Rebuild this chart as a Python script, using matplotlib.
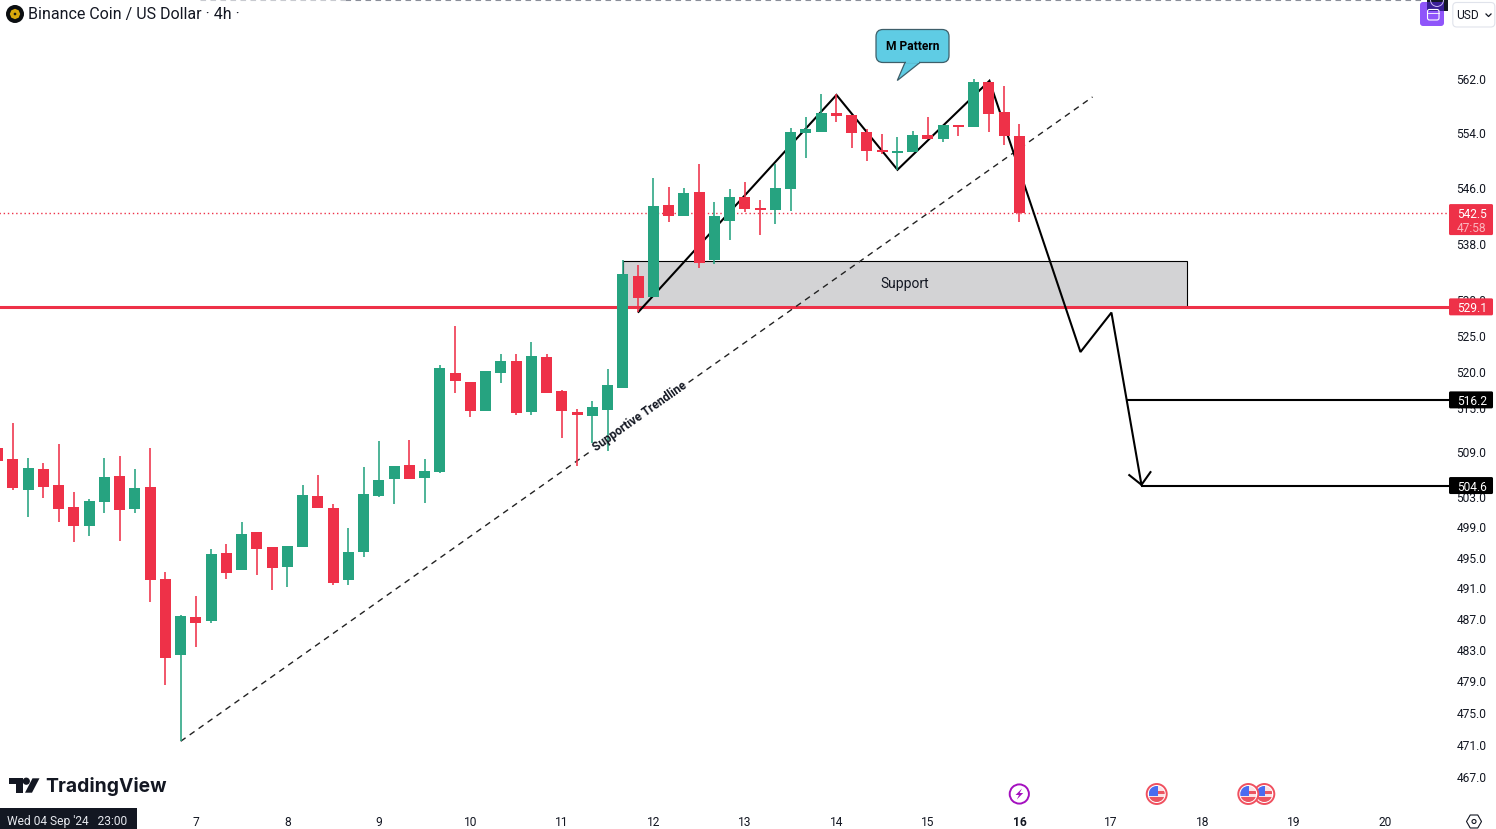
import numpy as np
import matplotlib
matplotlib.use('Agg')
import matplotlib.pyplot as plt
from matplotlib.patches import Rectangle, FancyBboxPatch, Polygon, Circle, RegularPolygon
from matplotlib.ticker import NullLocator
from matplotlib.transforms import ScaledTranslation

plt.rcParams['font.family'] = ['Roboto', 'DejaVu Sans']

GREEN = '#26A380'
RED = '#EE3148'
INK = '#131722'

# 4h candles, first one sticks out past the left edge
opens = [509.7, 508.2, 504.0, 506.8, 504.7, 501.7, 499.2, 502.4, 505.9, 501.5, 504.4, 492.3, 482.4, 487.3, 486.8, 495.7, 493.4,
         498.4, 496.4, 493.8, 496.4, 503.2, 501.6, 492.1, 495.8, 503.2, 505.5, 507.4, 505.6, 506.4, 519.9, 518.7, 514.7, 519.9,
         521.6, 514.6, 522.1, 517.4, 514.6, 514.0, 514.8, 517.8, 533.5, 530.5, 543.6, 542.0, 545.5, 535.7, 541.3, 544.8, 543.2,
         542.9, 545.9, 554.1, 554.2, 557.0, 556.7, 554.2, 551.6, 551.2, 551.3, 553.8, 553.2, 555.3, 555.0, 561.6, 557.2, 553.7]
highs = [509.7, 513.1, 508.3, 507.6, 510.2, 503.7, 502.8, 508.3, 508.6, 506.8, 509.7, 493.2, 487.6, 490.0, 496.2, 496.8, 499.8,
         498.4, 496.4, 496.6, 504.7, 506.0, 502.1, 499.0, 507.1, 510.6, 507.2, 510.8, 508.1, 521.0, 526.4, 518.7, 520.2, 522.5,
         522.5, 524.2, 522.5, 517.6, 515.0, 516.1, 520.5, 535.7, 535.0, 547.5, 546.2, 546.1, 549.6, 544.0, 545.9, 546.9, 544.3,
         549.6, 554.8, 556.5, 559.8, 559.8, 556.7, 554.7, 554.0, 553.5, 554.4, 556.5, 555.3, 555.3, 562.1, 561.6, 561.0, 555.4]
lows = [507.9, 504.0, 500.4, 502.9, 499.8, 497.1, 497.9, 501.0, 497.2, 501.0, 489.3, 478.6, 471.5, 483.5, 486.5, 492.3, 493.4,
        492.8, 490.8, 491.2, 496.4, 501.6, 491.5, 491.5, 495.1, 503.1, 502.1, 505.5, 502.3, 506.3, 517.2, 513.9, 514.7, 518.5,
        514.2, 514.2, 517.2, 511.0, 507.2, 510.3, 509.3, 517.8, 528.4, 530.5, 541.2, 542.0, 534.6, 535.2, 538.6, 542.6, 539.3,
        540.9, 542.7, 550.4, 554.2, 555.7, 551.9, 550.0, 551.0, 548.7, 551.3, 553.2, 552.8, 553.7, 555.0, 554.2, 552.3, 541.2]
closes = [507.9, 504.3, 507.0, 504.4, 501.5, 499.2, 502.5, 505.8, 501.3, 504.3, 492.1, 482.0, 487.4, 486.5, 495.5, 493.0, 498.2,
          496.2, 493.7, 496.6, 503.3, 501.6, 491.7, 495.8, 503.5, 505.4, 507.2, 505.5, 506.6, 520.6, 518.8, 514.7, 520.2, 521.6,
          514.4, 522.3, 517.2, 514.7, 514.2, 515.2, 518.3, 533.7, 530.3, 543.5, 542.0, 545.3, 535.3, 542.0, 544.8, 543.0, 542.9,
          546.1, 554.2, 554.7, 557.0, 556.6, 554.1, 551.4, 551.3, 551.4, 553.8, 553.2, 555.3, 555.0, 561.6, 556.9, 553.7, 542.5]
bar_index = np.arange(-1, 67)

price_ticks = [562, 554, 546, 538, 530, 525, 520, 515, 509, 503, 499, 495, 491, 487, 483, 479, 475, 471, 467]
day_ticks = [12, 18, 24, 30, 36, 42, 48, 54, 60, 66, 72, 78, 84, 90]
day_labels = ['7', '8', '9', '10', '11', '12', '13', '14', '15', '16', '17', '18', '19', '20']

# drawings on the chart (bar number, price)
trend1_x = [11, 37.87]
trend1_y = [471.5, 509.2]
trend2_x = [44.3, 70.79]
trend2_y = [518.6, 559.4]
zigzag_x = [41.02, 54.0, 58.0, 64.03, 70.0, 72.03, 74.0]
zigzag_y = [528.4, 559.7, 548.7, 561.8, 522.8, 528.3, 504.7]
head_x = [73.2, 74.0, 74.59]
head_y = [506.0, 504.7, 506.4]
support_low = 529.05
support_high = 535.62
support_left = 40.03
support_right = 77.0
level_main = 529.1
level_last = 542.5
level_t1 = 516.2
level_t2 = 504.6
scale_edge = 94.2

fig = plt.figure(figsize=(14.9601, 8.2901), dpi=100)
ax = fig.add_axes([0, 0, 1, 1])
ax.set_yscale('log')
ax.set_xlim(-0.85, 97.2484)
ax.set_ylim(460.65, 573.98)
for s in ax.spines.values():
    s.set_visible(False)
ax.set_axisbelow(True)

ax.yaxis.tick_right()
ax.set_yticks(price_ticks)
ax.set_yticklabels(['%.1f' % p for p in price_ticks])
ax.yaxis.set_minor_locator(NullLocator())
ax.tick_params(axis='y', length=0, pad=-28.5, labelsize=8.64, labelcolor=INK)
ax.set_xticks(day_ticks)
ax.set_xticklabels(day_labels)
ax.tick_params(axis='x', length=0, pad=-9.4, labelsize=8.64, labelcolor=INK)
ax.get_xticklabels()[day_labels.index('16')].set_fontweight('bold')
up = ScaledTranslation(0, 0.4 / 100, fig.dpi_scale_trans)
for tl in ax.get_yticklabels():
    tl.set_transform(tl.get_transform() + up)

# support box, levels
ax.add_patch(Rectangle((support_left, support_low), support_right - support_left, support_high - support_low,
                       facecolor='#D3D3D5', edgecolor='black', linewidth=0.8, zorder=1))
ax.text(58.46, 532.35, 'Support', ha='center', va='center', fontsize=10, color=INK, zorder=5)
ax.plot([-1, scale_edge], [level_main, level_main], color=RED, lw=2.2, zorder=2, solid_capstyle='butt')
ax.plot([-1, scale_edge], [level_last, level_last], color=RED, lw=1.0, ls=(0, (1, 2)), zorder=1.5)
ax.plot([73.08, scale_edge], [level_t1, level_t1], color='black', lw=1.5, zorder=3, solid_capstyle='butt')
ax.plot([74.0, scale_edge], [level_t2, level_t2], color='black', lw=1.5, zorder=3, solid_capstyle='butt')

# trendline
dash = (0, (4.3, 3.6))
ax.plot(trend1_x, trend1_y, color='#222222', lw=1.0, ls=dash, zorder=3)
ax.plot(trend2_x, trend2_y, color='#222222', lw=1.0, ls=dash, zorder=3)
ax.text(41.08, 513.9, 'Supportive Trendline', rotation=35.2, rotation_mode='anchor', ha='center', va='center',
        fontsize=8.6, fontweight='bold', color=INK, zorder=5)

# M pattern and projected move
ax.plot(zigzag_x, zigzag_y, color='black', lw=1.5, zorder=3, solid_joinstyle='miter')
ax.plot(head_x, head_y, color='black', lw=1.5, zorder=3, solid_joinstyle='miter')

# candles
for i, o, h, l, c in zip(bar_index, opens, highs, lows, closes):
    col = GREEN if c >= o else RED
    ax.vlines(i, l, h, color=col, lw=1.15, zorder=4)
    ax.bar(i, abs(c - o), bottom=min(o, c), width=0.72, color=col, linewidth=0, zorder=4)

# overlay in pixels for tags, logo and buttons
ov = fig.add_axes([0, 0, 1, 1])
ov.set_xlim(0, 1496)
ov.set_ylim(829, 0)
ov.axis('off')
ov.patch.set_visible(False)


def py(price):
    return fig.bbox.height - ax.transData.transform((0, price))[1]


def tag(price, txt, col):
    y = py(price)
    ov.add_patch(FancyBboxPatch((1449, y - 8.5), 44, 17, boxstyle='round,pad=0,rounding_size=1.5', facecolor=col, edgecolor='none'))
    ov.text(1472, y, txt, ha='center', va='center_baseline', fontsize=8.64, color='white')


tag(level_main, '529.1', RED)
tag(level_t1, '516.2', 'black')
tag(level_t2, '504.6', 'black')
y_last = py(level_last)
ov.add_patch(FancyBboxPatch((1449, y_last - 8.5), 44, 31, boxstyle='round,pad=0,rounding_size=1.5', facecolor=RED, edgecolor='none'))
ov.text(1472, y_last, '542.5', ha='center', va='center_baseline', fontsize=8.64, color='white')
ov.text(1472, y_last + 14, '47:58', ha='center', va='center_baseline', fontsize=8.64, color='#FBB6BE')

# M Pattern callout
ov.add_patch(FancyBboxPatch((876, 29.5), 73, 33, boxstyle='round,pad=0,rounding_size=7', facecolor='#5FCCE4', edgecolor='#3E5F6A', linewidth=0.9))
ov.add_patch(Polygon([(905, 62.5), (897.3, 80.5), (920, 62.5)], closed=True, facecolor='#5FCCE4', edgecolor='#3E5F6A', linewidth=0.9))
ov.plot([906, 919], [62.4, 62.4], color='#5FCCE4', lw=1.4, solid_capstyle='butt')
ov.text(912.5, 46, 'M Pattern', ha='center', va='center', fontsize=8.64, fontweight='bold', color='black')

# header
ov.add_patch(Circle((15, 14), 9, facecolor='#0B0E11', edgecolor='none'))
ov.add_patch(RegularPolygon((15, 14), 8, radius=5.2, facecolor='#D9A80C', edgecolor='none'))
ov.add_patch(RegularPolygon((15, 14), 4, radius=1.6, facecolor='#0B0E11', edgecolor='none'))
ov.text(28, 14, 'Binance Coin / US Dollar · 4h ·', ha='left', va='center', fontsize=11.55, color=INK)
ov.plot([345, 1425], [0.5, 0.5], color='#8A8E99', lw=0.8, ls=(0, (5, 4)))
ov.plot([200, 345], [0.5, 0.5], color='#C8CAD0', lw=0.8, ls=(0, (5, 4)))

# top right buttons
ov.add_patch(FancyBboxPatch((1420, 2), 24, 24, boxstyle='round,pad=0,rounding_size=3', facecolor='#8F55FA', edgecolor='none'))
ov.add_patch(Rectangle((1427, 0), 21, 11, facecolor=INK, edgecolor='none'))
ov.add_patch(Rectangle((1427, 2), 17, 9, facecolor='#3A1F96', edgecolor='none'))
ov.add_patch(Circle((1437, 0), 6.5, facecolor='none', edgecolor='#C9B8F5', linewidth=0.7))
ov.add_patch(FancyBboxPatch((1427.5, 9.5), 11.5, 10.5, boxstyle='round,pad=0,rounding_size=2', facecolor='none', edgecolor='white', linewidth=0.8))
ov.plot([1427.5, 1439], [13.5, 13.5], color='white', lw=0.6)
ov.add_patch(FancyBboxPatch((1452.8, 2.5), 42, 24.5, boxstyle='round,pad=0,rounding_size=4', facecolor='white', edgecolor='#E0E3EB', linewidth=0.8))
ov.text(1456, 15, 'USD', ha='left', va='center', fontsize=8.64, color=INK)
ov.plot([1486, 1488.5, 1491], [14, 16.5, 14], color=INK, lw=0.9)

# TradingView logo
ov.add_patch(Polygon([(9, 778.3), (22.7, 778.3), (22.7, 792.7), (15.7, 792.7), (15.7, 784), (9, 784)], closed=True, facecolor=INK, edgecolor='none'))
ov.add_patch(Circle((26.3, 781.2), 3.6, facecolor=INK, edgecolor='none'))
ov.add_patch(Polygon([(32.5, 778.3), (39.5, 778.3), (32, 792.7), (25, 792.7)], closed=True, facecolor=INK, edgecolor='none'))
ov.text(45.5, 786, 'TradingView', ha='left', va='center', fontsize=13.9, fontweight='bold', family='Inter', color=INK)

# date box and gear
ov.add_patch(Rectangle((0, 808), 137, 21, facecolor=INK, edgecolor='none'))
ov.text(7, 821, "Wed 04 Sep '24   23:00", ha='left', va='center', fontsize=8.64, color='#E6E8EE')
ov.add_patch(RegularPolygon((1474, 821.5), 6, radius=7.5, orientation=np.pi / 6, facecolor='none', edgecolor=INK, linewidth=0.8))
ov.add_patch(Circle((1474, 821.5), 2, facecolor='none', edgecolor=INK, linewidth=0.8))

# event icons
ov.add_patch(Circle((1019.3, 794), 9.6, facecolor='white', edgecolor='#A40FBF', linewidth=1.4))
ov.add_patch(Polygon([(1022, 788.5), (1015.5, 795), (1019, 795), (1016.8, 799.5), (1023.2, 793), (1019.7, 793)], closed=True, facecolor='#A40FBF', edgecolor='none'))


def flag(cx):
    cy = 794
    ring = Circle((cx, cy), 10, facecolor='white', edgecolor='#F0505F', linewidth=1.4, zorder=3)
    ov.add_patch(ring)
    inner = Circle((cx, cy), 8, transform=ov.transData)
    for r in [Rectangle((cx - 8, cy - 8), 16, 16, facecolor='#FBE3E5', edgecolor='none', zorder=3),
              Rectangle((cx, cy - 3), 8, 3.5, facecolor='#EC5561', edgecolor='none', zorder=3),
              Rectangle((cx - 8, cy + 3), 16, 5, facecolor='#EC5561', edgecolor='none', zorder=3),
              Rectangle((cx - 8, cy - 8), 9, 10, facecolor='#4A6CF0', edgecolor='none', zorder=3)]:
        ov.add_patch(r)
        r.set_clip_path(inner)


flag(1264.3)
flag(1248.3)
flag(1156.7)

fig.savefig('out.png', dpi=100, facecolor='white')
